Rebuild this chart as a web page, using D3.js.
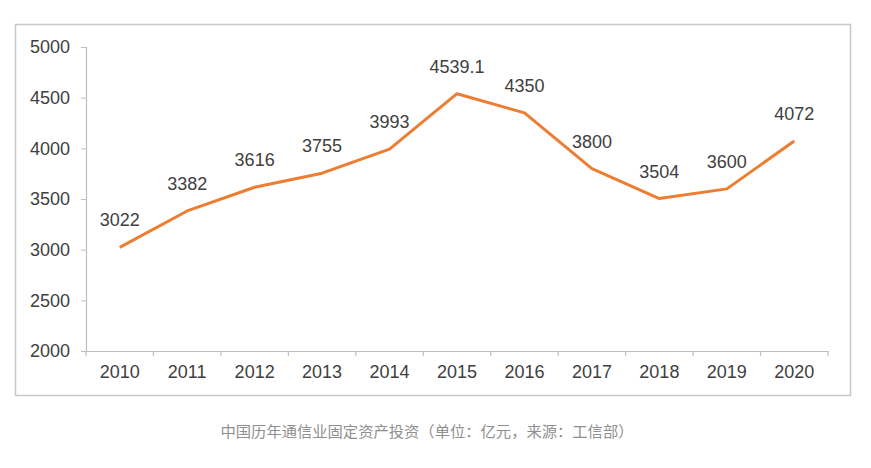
<!DOCTYPE html>
<html><head><meta charset="utf-8">
<script src="https://cdn.jsdelivr.net/npm/d3@7"></script>
<style>
body{margin:0;background:#fff;}
svg text{font-family:"Liberation Sans",Arial,sans-serif;}
</style></head><body>
<svg id="c" width="871" height="468"></svg>
<script>
const years = ["2010","2011","2012","2013","2014","2015","2016","2017","2018","2019","2020"];
const values = [3022,3382,3616,3755,3993,4539.1,4350,3800,3504,3600,4072];
const labels = ["3022","3382","3616","3755","3993","4539.1","4350","3800","3504","3600","4072"];
const yTicks = [2000,2500,3000,3500,4000,4500,5000];
const caption = "中国历年通信业固定资产投资（单位：亿元，来源：工信部）";

const svg = d3.select("#c");
svg.append("rect").attr("x",15.5).attr("y",24.5).attr("width",835).attr("height",371)
  .attr("fill","#fff").attr("stroke","#c8c8c8").attr("stroke-width",1.5);

const x = d3.scaleBand().domain(years).range([86,828]);
const y = d3.scaleLinear().domain([2000,5000]).range([351,47]);

const ya = svg.append("g").attr("transform","translate(86,0)")
  .call(d3.axisLeft(y).tickValues(yTicks).tickSize(5).tickPadding(11).tickFormat(d3.format("d")));
ya.select(".domain").attr("stroke","#bfbfbf").attr("stroke-width",1.2);
ya.selectAll(".tick line").attr("stroke","#bfbfbf");
ya.selectAll("text").attr("font-size",18).attr("fill","#404040");

const xa = svg.append("g").attr("transform","translate(0,351)")
  .call(d3.axisBottom(x).tickSize(0).tickPadding(14));
xa.select(".domain").attr("stroke","#bfbfbf").attr("stroke-width",1.2);
xa.selectAll("text").attr("font-size",18).attr("fill","#404040");
// band boundary tick marks
const bounds = years.map(d=>x(d)).concat([x.range()[1]]);
svg.append("g").selectAll("line").data(bounds).join("line")
  .attr("x1",d=>d).attr("x2",d=>d).attr("y1",351).attr("y2",356)
  .attr("stroke","#bfbfbf").attr("stroke-width",1.2);

const cx = d=>x(d)+x.bandwidth()/2;
const line = d3.line().x((d,i)=>cx(years[i])).y(d=>y(d));
svg.append("path").datum(values).attr("d",line).attr("fill","none")
  .attr("stroke","#ED7D31").attr("stroke-width",3).attr("stroke-linejoin","round");

svg.append("g").selectAll("text").data(values).join("text")
  .attr("x",(d,i)=>cx(years[i])).attr("y",d=>y(d)-21)
  .attr("text-anchor","middle").attr("font-size",18).attr("fill","#404040")
  .text((d,i)=>labels[i]);

svg.append("text").attr("x",427).attr("y",437).attr("text-anchor","middle")
  .attr("font-size",15.3).attr("fill","#8f8f8f")
  .style("font-family","'Noto Sans CJK SC',sans-serif").text(caption);
</script></body></html>
